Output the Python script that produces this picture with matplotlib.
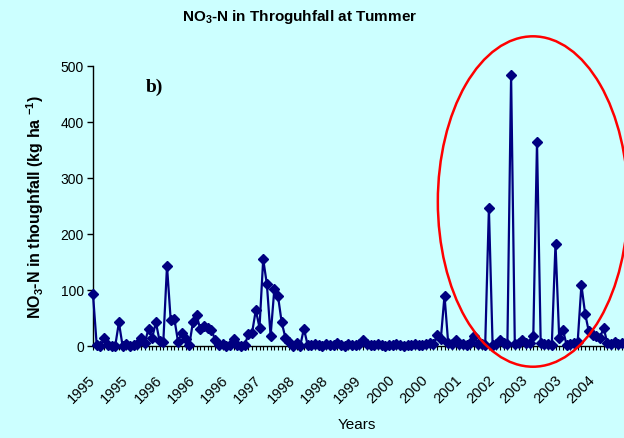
import matplotlib
matplotlib.use('Agg')
import matplotlib.pyplot as plt
from matplotlib.patches import Ellipse
from matplotlib.ticker import FixedLocator, MultipleLocator

plt.rcParams['font.family'] = ['Liberation Sans', 'DejaVu Sans']
plt.rcParams['mathtext.fontset'] = 'custom'
plt.rcParams['mathtext.rm'] = 'Liberation Sans:bold'
plt.rcParams['mathtext.it'] = 'Liberation Sans:bold'
plt.rcParams['mathtext.bf'] = 'Liberation Sans:bold'
plt.rcParams['mathtext.default'] = 'rm'

# NO3-N in throughfall (kg ha-1), one value per sampling (category axis)
values = [
    92, 2, 0, 14, 2, 0, 0, 42, 0, 4,
    0, 1, 3, 15, 5, 31, 15, 42, 9, 7,
    143, 46, 48, 7, 24, 12, 1, 42, 55, 30,
    36, 33, 29, 11, 2, 3, 0, 2, 12, 2,
    0, 2, 21, 24, 64, 33, 155, 110, 18, 101,
    89, 42, 15, 8, 0, 5, 0, 31, 2, 1,
    3, 2, 0, 4, 2, 1, 5, 2, 0, 3,
    1, 2, 4, 10, 3, 2, 1, 4, 2, 0,
    2, 1, 3, 1, 0, 2, 1, 3, 2, 1,
    4, 6, 3, 19, 12, 90, 5, 3, 11, 4,
    4, 2, 5, 17, 3, 4, 2, 246, 2, 3,
    10, 5, 4, 484, 4, 6, 11, 5, 5, 17,
    365, 5, 4, 4, 2, 183, 14, 29, 2, 3,
    5, 8, 109, 58, 26, 20, 17, 14, 33, 5,
    3, 8, 4, 5, 3, 2,
]
tick_labels = ['1995', '1995', '1996', '1996', '1996', '1997', '1998', '1998',
               '1999', '2000', '2000', '2001', '2002', '2003', '2003', '2004']
label_step = 9
yticks = [0, 100, 200, 300, 400, 500]

bg = '#CCFFFF'
fig = plt.figure(figsize=(6.24, 4.38), dpi=100, facecolor=bg)
ax = fig.add_axes([93 / 624, 92 / 438, 531 / 624, 280 / 438])
ax.set_facecolor(bg)

xs = list(range(len(values)))
ax.plot(xs, values, color='#000080', lw=1.6, marker='D', ms=5.2,
        clip_on=False, zorder=3)

ax.set_xlim(0, 531 / 3.7)
ax.set_ylim(0, 500)
ax.set_yticks(yticks)
ax.set_yticklabels([str(v) for v in yticks], fontsize=10)

ax.xaxis.set_major_locator(FixedLocator([i * label_step for i in range(len(tick_labels))]))
ax.set_xticklabels(tick_labels, rotation=45, ha='right', va='center',
                   rotation_mode='anchor', fontsize=10.5)
ax.xaxis.set_minor_locator(MultipleLocator(1))

for s in ['top', 'right']:
    ax.spines[s].set_visible(False)
ax.spines['left'].set_color('black')
ax.spines['bottom'].set_color('black')
ax.spines['left'].set_linewidth(1.0)
ax.spines['bottom'].set_linewidth(1.0)

ax.tick_params(axis='y', direction='out', length=4, width=1, pad=2.5, colors='black')
ax.tick_params(axis='x', which='both', direction='out', length=3, width=0.8,
               pad=20, colors='black')

ell = Ellipse((118.9, 258), width=51.4, height=590, fill=False,
              edgecolor='red', lw=1.8, clip_on=False, zorder=4)
ax.add_patch(ell)

fig.text(300 / 624, 1 - 17 / 438, 'NO$_3$-N in Throguhfall at Tummer',
         ha='center', va='center', fontsize=11, fontweight='bold')
fig.text(35 / 624, 1 - 207 / 438, 'NO$_3$-N in thoughfall (kg ha $^{-1}$)',
         rotation=90, ha='center', va='center', fontsize=11.5, fontweight='bold')
fig.text(357 / 624, 1 - 425 / 438, 'Years', ha='center', va='center', fontsize=11)
fig.text(146 / 624, 1 - 87 / 438, 'b)', ha='left', va='center', fontsize=14,
         fontweight='bold', family=['Liberation Serif', 'DejaVu Serif'])

fig.savefig('out.png', dpi=100, facecolor=bg)
